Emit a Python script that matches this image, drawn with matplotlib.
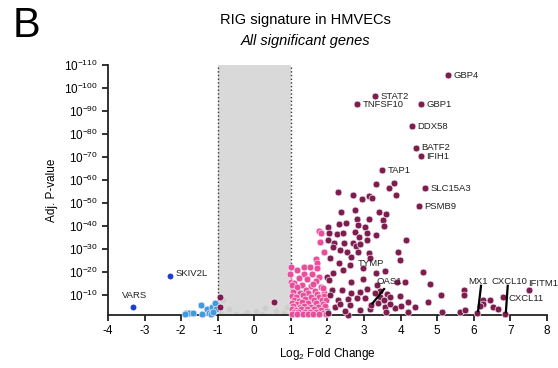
import numpy as np
import matplotlib
matplotlib.use("Agg")
import matplotlib.pyplot as plt

plt.rcParams['font.family'] = ['Liberation Sans', 'DejaVu Sans']
plt.rcParams['mathtext.default'] = 'regular'

# labelled RIG signature genes: (name, log2FC, -log10 adj p)
lab_names = ["GBP4", "STAT2", "TNFSF10", "GBP1", "DDX58", "BATF2", "IFIH1", "TAP1",
             "SLC15A3", "PSMB9", "TYMP", "OAS1", "MX1", "CXCL10", "CXCL11", "IFITM1"]
lab_x = [5.29, 3.30, 2.81, 4.56, 4.31, 4.42, 4.56, 3.49, 4.67, 4.50, 2.83, 3.20, 6.09, 6.85, 6.80, 7.51]
lab_y = [105.7, 96.5, 93.0, 93.0, 83.5, 74.0, 70.4, 64.3, 56.5, 48.7, 28.7, 5.5, 2.2, 1.7, 9.1, 12.2]

# other RIG signature genes
rig_x = [2.29, 2.70, 2.94, 3.14, 3.22, 3.33, 3.68, 3.82, 3.87,
         2.37, 2.75, 3.41, 3.60,
         2.32, 2.51, 2.81, 2.83, 3.13, 3.52, 3.55, 2.01, 3.03,
         2.04, 2.26, 2.42, 2.75, 3.08, 2.86, 3.32,
         2.01, 2.18, 2.45, 2.70, 2.78, 2.89, 3.08, 4.15,
         2.15, 2.34, 2.53, 3.13, 3.93,
         2.07, 2.64, 3.16, 3.98,
         2.32, 2.62, 2.42, 2.97, 3.33, 3.57, 4.61,
         1.99, 2.15, 2.04, 2.64, 2.97, 3.35, 3.90, 4.12, 4.80,
         5.73, 5.73, 5.10,
         2.12, 2.40, 2.64, 2.89, 3.08, 3.44, 3.63, 3.30,
         3.44, 3.71, 3.98, 4.20, 4.39, 4.75, 2.81, 3.16, 3.57, 3.85, 3.38, 3.03,
         2.29, 2.56, 2.21, 2.01, 2.56, 2.89, 4.20, 5.13, 5.62, 5.76,
         6.25, 6.44, 6.25, 6.53, 6.66, 6.17,
         2.08, 2.34, 2.62, 2.48, 3.55, 3.70, 3.60, 4.00,
         -0.94, -0.94, 0.54]
rig_y = [54.8, 53.5, 51.7, 53.0, 52.2, 58.3, 56.5, 58.7, 53.5,
         46.0, 47.0, 46.0, 45.2,
         40.9, 41.3, 43.0, 40.4, 43.0, 42.6, 40.0, 39.6, 39.6,
         37.0, 36.5, 37.0, 37.4, 37.0, 35.2, 36.0,
         33.9, 32.6, 32.6, 32.6, 31.3, 32.2, 33.9, 33.9,
         30.9, 29.6, 28.7, 28.3, 28.7,
         26.0, 26.5, 26.0, 25.2,
         23.9, 23.0, 20.9, 21.7, 19.6, 20.4, 20.0,
         17.8, 19.6, 16.5, 15.7, 17.0, 14.3, 15.7, 15.7, 14.8,
         12.2, 10.0, 10.0,
         12.2, 12.2, 10.9, 11.3, 12.6, 11.7, 10.4, 10.9,
         9.1, 9.1, 9.6, 7.0, 4.8, 7.0, 8.7, 3.9, 4.8, 4.3, 6.5, 8.7,
         7.8, 8.3, 4.8, 2.2, 1.5, 3.5, 2.6, 2.6, 2.6, 3.5,
         7.8, 7.8, 6.0, 4.8, 3.9, 5.2,
         10.0, 6.0, 5.5, 3.0, 7.8, 6.2, 2.8, 5.2,
         9.1, 4.8, 7.0]

# other upregulated genes
up_x = [1.77, 1.83, 1.80, 1.90, 1.69, 1.71, 1.36, 1.52, 1.71, 1.17, 1.00, 0.98, 1.00,
        1.36, 1.58, 1.77, 1.22, 1.44, 1.69, 1.08, 1.30, 1.55, 1.82, 1.17, 1.41, 1.66, 1.90,
        1.03, 1.17, 1.60, 1.88,
        1.05, 1.25, 1.48, 1.72,
        1.02, 1.15, 1.33, 1.55, 1.78, 1.92,
        1.08, 1.22, 1.40, 1.62, 1.85, 1.96,
        1.03, 1.18, 1.30, 1.47, 1.68, 1.88,
        1.06, 1.24, 1.36, 1.56, 1.74, 1.93,
        1.02, 1.14, 1.29, 1.45, 1.63, 1.82, 1.98,
        1.08, 1.20, 1.38, 1.52, 1.70, 1.89,
        1.03, 1.16, 1.32, 1.46, 1.60, 1.78, 1.95]
up_y = [37.8, 37.0, 33.0, 28.7, 25.6, 23.9, 22.0, 22.0, 21.7, 20.9, 22.0, 19.1, 15.7,
        19.1, 19.1, 17.8, 17.4, 17.0, 16.1, 15.2, 14.3, 13.9, 13.5, 12.2, 12.2, 11.7, 10.9,
        14.3, 13.5, 14.8, 13.0,
        11.3, 10.9, 11.0, 10.4,
        9.6, 9.1, 9.8, 9.3, 9.0, 9.6,
        8.0, 7.6, 8.2, 7.8, 7.9, 7.8,
        6.5, 6.2, 6.8, 6.4, 6.6, 6.1,
        5.2, 4.8, 5.3, 5.0, 4.7, 5.1,
        3.8, 3.6, 4.0, 3.7, 3.9, 3.5, 3.2,
        2.6, 2.4, 2.8, 2.5, 2.7, 2.3,
        1.8, 1.7, 1.9, 1.6, 1.8, 1.7, 1.9]

# downregulated genes
down_x = [-1.87, -1.79, -1.68, -1.46, -1.43, -1.30, -1.24, -1.16, -1.07, -1.05, -1.90, -1.19, -1.12]
down_y = [2.2, 2.2, 2.2, 5.7, 1.7, 3.9, 2.2, 4.8, 6.5, 3.9, 1.6, 1.6, 2.8]
down_lab = ["SKIV2L", "VARS"]
down_lab_x = [-2.31, -3.32]
down_lab_y = [18.3, 4.8]

# below fold-change cut-off
ns_x = [-0.90, -0.50, -0.20, 0.20, 0.60, 0.80, -0.70, 0.30, 0.90, -0.85, -0.30, 0.05]
ns_y = [2.0, 1.8, 2.5, 1.6, 3.0, 2.2, 4.0, 4.5, 5.0, 8.0, 1.5, 3.2]

maroon = '#7d1d4f'
pink = '#ea4d9c'

fig = plt.figure(figsize=(5.58, 3.68), dpi=100)
ax = fig.add_axes([0.1935, 0.144, 0.7865, 0.679])

ax.axvspan(-1, 1, color='#d9d9d9', zorder=0, lw=0)
ax.axvline(-1, color='#333333', ls=':', lw=1, zorder=1)
ax.axvline(1, color='#333333', ls=':', lw=1, zorder=1)

kw = dict(s=24, edgecolors='#f3e6ec', linewidths=0.5, zorder=3, clip_on=False)
ax.scatter(ns_x, ns_y, color='#cdcdcd', s=16, lw=0, zorder=2)
ax.scatter(up_x, up_y, color=pink, **kw)
ax.scatter(down_x, down_y, color='#3d9be0', **kw)
ax.scatter(down_lab_x, down_lab_y, color='#1a3fcf', s=18, lw=0, zorder=3)
ax.scatter(rig_x, rig_y, color=maroon, **kw)
ax.scatter(lab_x, lab_y, color=maroon, **kw)

fs = 6.8
# labels right of their points
right = ["GBP4", "STAT2", "TNFSF10", "GBP1", "DDX58", "BATF2", "IFIH1", "TAP1", "SLC15A3", "PSMB9"]
for n, x, y in zip(lab_names, lab_x, lab_y):
    if n in right:
        ax.annotate(n, (x, y), xytext=(4, 0), textcoords='offset points',
                    va='center', ha='left', fontsize=fs, color='#222222')
ax.text(2.83, 23.5, "TYMP", fontsize=fs, va='center', ha='left', color='#222222')
ax.text(6.96, 8.3, "CXCL11", fontsize=fs, va='center', ha='left', color='#222222')
ax.text(7.48, 15.2, "IFITM1", fontsize=fs, va='center', ha='left', color='#222222', clip_on=False)
# labels with leader lines
for n, tx, ty, lx, ly in [("OAS1", 3.35, 15.7, 3.55, 12.6),
                          ("MX1", 5.84, 15.7, 6.20, 14.0),
                          ("CXCL10", 6.50, 15.7, 6.93, 14.0)]:
    i = lab_names.index(n)
    ax.text(tx, ty, n, fontsize=fs, va='center', ha='left', color='#222222')
    ax.plot([lx, lab_x[i] + 0.03], [ly, lab_y[i] + 0.8], color='black', lw=1.6, zorder=4)

ax.annotate("SKIV2L", (down_lab_x[0], down_lab_y[0]), xytext=(4, 2), textcoords='offset points',
            va='center', ha='left', fontsize=fs, color='#222222')
ax.annotate("VARS", (down_lab_x[1], down_lab_y[1]), xytext=(1, 5), textcoords='offset points',
            va='bottom', ha='center', fontsize=fs, color='#222222')

ax.set_xlim(-4, 8)
ax.set_ylim(1.3, 110)
ax.set_xticks(range(-4, 9))
ax.set_xticklabels([str(v) for v in range(-4, 9)])
yt = list(range(10, 111, 10))
ax.set_yticks(yt)
ax.set_yticklabels([r'$10^{-%d}$' % v for v in yt])
ax.tick_params(direction='out', length=4, width=1.3, labelsize=8.5, color='#222222')
for s in ['top', 'right']:
    ax.spines[s].set_visible(False)
for s in ['left', 'bottom']:
    ax.spines[s].set_linewidth(1.3)
    ax.spines[s].set_color('#222222')

ax.set_xlabel(r'Log$_2$ Fold Change', fontsize=8.5, labelpad=6)
ax.set_ylabel('Adj. P-value', fontsize=8.5, labelpad=4)

fig.text(0.547, 0.945, 'RIG signature in HMVECs', ha='center', va='center', fontsize=10.5)
fig.text(0.547, 0.888, 'All significant genes', ha='center', va='center', fontsize=10.5, style='italic')
fig.text(0.022, 0.93, 'B', ha='left', va='center', fontsize=30)

fig.savefig('out.png', dpi=100)
